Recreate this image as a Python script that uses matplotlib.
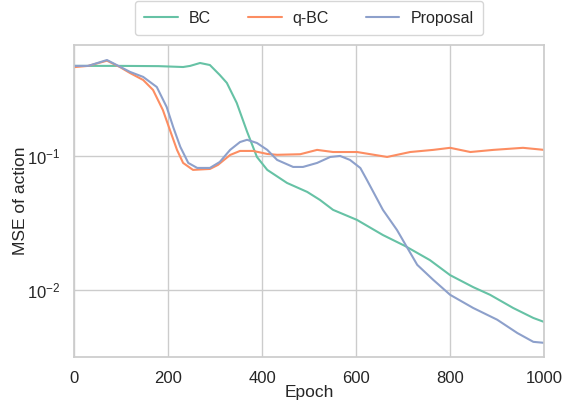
import matplotlib
matplotlib.use("Agg")
import matplotlib.pyplot as plt
import seaborn as sns
import numpy as np

sns.set_theme(style="whitegrid", palette="Set2")
plt.rcParams['font.family'] = ['Arial', 'Liberation Sans', 'DejaVu Sans']

# values (epoch, MSE)
bc_epoch = [0, 50, 100, 180, 232, 247, 268, 289, 310, 325, 346, 368, 389, 411,
            453, 496, 523, 551, 602, 657, 704, 757, 800, 849, 885, 934, 977, 1000]
bc_mse = [0.47, 0.47, 0.47, 0.468, 0.461, 0.47, 0.494, 0.477, 0.402, 0.351,
          0.249, 0.152, 0.0983, 0.0787, 0.0629, 0.0539, 0.047, 0.0396, 0.0333,
          0.0257, 0.0213, 0.0167, 0.0129, 0.0105, 0.0092, 0.00734, 0.00618,
          0.00577]

qbc_epoch = [0, 30, 70, 98, 119, 147, 168, 189, 204, 219, 232, 253, 289, 306,
             332, 353, 381, 411, 432, 481, 517, 551, 602, 666, 715, 764, 800,
             843, 892, 955, 1000]
qbc_mse = [0.46, 0.47, 0.514, 0.46, 0.416, 0.369, 0.311, 0.22, 0.156, 0.111,
           0.0887, 0.0787, 0.080, 0.0857, 0.1017, 0.109, 0.109, 0.1035, 0.102,
           0.103, 0.111, 0.107, 0.107, 0.0983, 0.107, 0.111, 0.115, 0.107,
           0.111, 0.115, 0.111]

prop_epoch = [0, 30, 70, 119, 147, 176, 197, 211, 226, 243, 262, 289, 310, 332,
              353, 368, 389, 411, 432, 466, 487, 517, 545, 566, 587, 609, 623,
              657, 687, 708, 730, 764, 800, 849, 900, 943, 977, 1000]
prop_mse = [0.47, 0.47, 0.52, 0.424, 0.389, 0.327, 0.232, 0.164, 0.117, 0.0887,
            0.0814, 0.0814, 0.0902, 0.111, 0.127, 0.132, 0.125, 0.111, 0.0934,
            0.0828, 0.0828, 0.0887, 0.0983, 0.1, 0.0934, 0.0813, 0.0662, 0.0396,
            0.028, 0.0209, 0.0154, 0.0119, 0.0092, 0.00734, 0.006, 0.00477,
            0.0041, 0.00403]

colors = sns.color_palette("Set2", 3)

fig = plt.figure(figsize=(5.74, 4.0), dpi=100)
ax = fig.add_axes([0.129, 0.1075, 0.819, 0.78])

ax.plot(bc_epoch, bc_mse, color=colors[0], lw=1.5, label="BC")
ax.plot(qbc_epoch, qbc_mse, color=colors[1], lw=1.5, label="q-BC")
ax.plot(prop_epoch, prop_mse, color=colors[2], lw=1.5, label="Proposal")

ax.set_yscale("log")
ax.set_xlim(0, 1000)
ax.set_ylim(0.00316, 0.673)
ax.set_xticks([0, 200, 400, 600, 800, 1000])
ax.set_yticks([0.01, 0.1])
ax.minorticks_off()
ax.tick_params(labelsize=12, pad=4)
ax.set_xlabel("Epoch", fontsize=12.5, labelpad=-1)
ax.set_ylabel("MSE of action", fontsize=12.5)
ax.yaxis.set_label_coords(-0.098, 0.5)

ax.legend(loc="lower center", bbox_to_anchor=(0.5, 1.005), ncol=3, fontsize=11.5,
          frameon=True, columnspacing=2.3, handlelength=2.1, handletextpad=0.7,
          borderpad=0.6)

fig.savefig("out.png", dpi=100)
